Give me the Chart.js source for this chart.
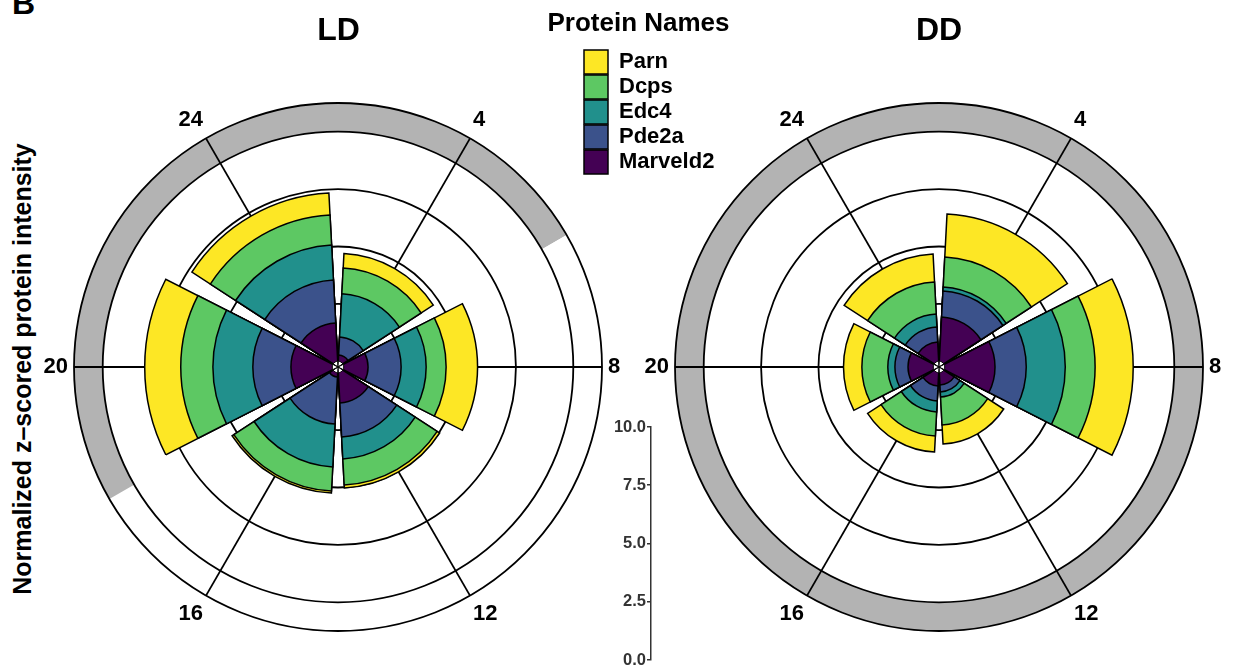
<!DOCTYPE html>
<html>
<head>
<meta charset="utf-8">
<title>Protein rose plots LD / DD</title>
<script src="https://cdn.jsdelivr.net/npm/chart.js@4.4.1/dist/chart.umd.min.js"></script>
<style>
    html, body { margin: 0; padding: 0; background: #fff; overflow: hidden; }
    #figure { position: relative; width: 1235px; height: 668px; overflow: hidden; font-family: 'Liberation Sans', Arial, sans-serif; }
    #figure canvas { position: absolute; }
    .text { position: absolute; font-weight: bold; color: #000; white-space: nowrap; }
    #panelLetter { left: 12px; top: -13px; font-size: 32px; line-height: 32px; }
    #yTitle { left: 22px; top: 369px; font-size: 25px; line-height: 25px; transform: translate(-50%, -50%) rotate(-90deg); }
</style>
</head>
<body>
<div id="figure">
    <div id="panelLetter" class="text">B</div>
    <div id="yTitle" class="text">Normalized z–scored protein intensity</div>
    <canvas id="ldBack" width="677" height="668" style="left:0;top:0"></canvas>
    <canvas id="ldFront" width="677" height="668" style="left:0;top:0"></canvas>
    <canvas id="ddBack" width="592" height="668" style="left:643px;top:0"></canvas>
    <canvas id="ddFront" width="592" height="668" style="left:643px;top:0"></canvas>
    <canvas id="scaleAxis" width="207" height="680" style="left:540px;top:0"></canvas>
    <canvas id="legendCanvas" width="400" height="200" style="left:573px;top:0"></canvas>
</div>
<script>
// time points, in the order the bars go round (clockwise from 24)
const timeLabels = ['24', '4', '8', '12', '16', '20'];

// proteins stacked from the centre outwards
const proteins = ['Marveld2', 'Pde2a', 'Edc4', 'Dcps', 'Parn'];
const proteinColors = ['#440154', '#3B528B', '#21908C', '#5DC863', '#FDE725'];

// LD
const ldMarveld2 = [1.67, 0.27, 1.06, 1.32, 0.19, 1.80];
const ldPde2a    = [1.88, 0.79, 1.44, 1.48, 2.05, 1.66];
const ldEdc4     = [1.52, 1.88, 1.09, 0.96, 1.87, 1.74];
const ldDcps     = [1.31, 1.13, 0.87, 1.14, 1.05, 1.40];
const ldParn     = [0.96, 0.63, 1.37, 0.13, 0.09, 1.57];

// DD
const ddMarveld2 = [0.84, 1.93, 2.19, 0.54, 0.58, 1.10];
const ddPde2a    = [0.66, 1.14, 1.36, 0.30, 0.65, 0.57];
const ddEdc4     = [0.56, 0.17, 1.70, 0.22, 0.48, 0.31];
const ddDcps     = [1.40, 1.31, 1.30, 1.22, 1.05, 1.13];
const ddParn     = [1.22, 1.87, 1.66, 0.83, 0.70, 0.80];

// light/dark ring, hours starting at 24 going clockwise
const ldPhaseHours = [6, 12, 6];
const ldPhaseNames = ['dark', 'light', 'dark'];
const ddPhaseHours = [24];
const ddPhaseNames = ['dark'];

const axisTicks = [0, 2.5, 5, 7.5, 10];

const BLACK = '#000000';
const NONE = 'rgba(0,0,0,0)';
const phaseColors = { dark: '#B3B3B3', light: '#FFFFFF' };

const R_MIN = -0.25;
const R_MAX = 11.25;
const RING_INNER = 10;
const GRID_VALUES = [2.5, 5, 7.5, 10, R_MAX];
const BAR_DEG = 54;
const GAP_DEG = 6;

Chart.defaults.font.family = "'Liberation Sans', Arial, sans-serif";

//===----------------------------------------------------------------------===//
//                       Helper Functions
//===----------------------------------------------------------------------===//

function isBarSlot(ctx) {
    return ctx.dataIndex % 2 === 1;
}

// half gap, bar, gap, bar ... bar, half gap
function slotAngle(ctx) {
    const i = ctx.dataIndex;
    if (i === 0 || i === timeLabels.length * 2) {
        return GAP_DEG / 2;
    }
    return i % 2 === 1 ? BAR_DEG : GAP_DEG;
}

function toSlots(values) {
    const slots = [0];
    values.forEach(v => {
        slots.push(v);
        slots.push(0);
    });
    return slots;
}

function stack(layers) {
    let run = timeLabels.map(() => 0);
    return layers.map(layer => {
        run = run.map((s, i) => s + layer[i]);
        return run;
    });
}

function barDatasets(layers) {
    const list = [{
        label: 'hole',
        data: toSlots(timeLabels.map(() => 0)),
        angle: slotAngle,
        backgroundColor: ctx => isBarSlot(ctx) ? '#FFFFFF' : NONE,
        borderColor: BLACK,
        borderWidth: ctx => isBarSlot(ctx) ? 1 : 0
    }];
    stack(layers).forEach((sums, k) => {
        list.push({
            label: proteins[k],
            data: toSlots(sums),
            angle: slotAngle,
            backgroundColor: ctx => isBarSlot(ctx) ? proteinColors[k] : NONE,
            borderColor: BLACK,
            borderWidth: ctx => isBarSlot(ctx) ? 1.5 : 0,
            borderJoinStyle: 'miter'
        });
    });
    return list;
}

function ringDatasets(hours, names) {
    return [{
        label: 'inner',
        data: [RING_INNER],
        angle: 360,
        backgroundColor: '#FFFFFF',
        borderWidth: 0
    }, {
        label: 'phase',
        data: hours.map(() => R_MAX),
        angle: ctx => hours[ctx.dataIndex] * 15,
        backgroundColor: names.map(n => phaseColors[n]),
        borderWidth: 0
    }];
}

function polarOptions(title, startAngle, front) {
    return {
        responsive: false,
        devicePixelRatio: 1,
        animation: false,
        events: [],
        layout: { padding: { top: 0, bottom: 36.5, left: 0, right: 0 } },
        plugins: {
            legend: { display: false },
            tooltip: { enabled: false },
            title: {
                display: true,
                text: title,
                color: front ? NONE : BLACK,
                font: { size: 32, weight: 'bold' },
                padding: { top: 12, bottom: 53 }
            }
        },
        scales: {
            r: {
                min: R_MIN,
                max: R_MAX,
                startAngle: startAngle,
                ticks: { display: false },
                afterBuildTicks: scale => {
                    scale.ticks = GRID_VALUES.map(v => ({ value: v }));
                },
                grid: { display: !front, circular: true, color: BLACK, lineWidth: 1.8, z: 1 },
                angleLines: { display: !front, color: BLACK, lineWidth: 1.8 },
                pointLabels: {
                    display: true,
                    centerPointLabels: front,
                    color: front ? NONE : BLACK,
                    padding: 6,
                    font: { size: 22, weight: 'bold' }
                }
            }
        }
    };
}

function roseChart(prefix, title, layers, hours, names) {
    // ring, grid and hour labels
    new Chart(document.getElementById(prefix + 'Back'), {
        type: 'polarArea',
        data: { labels: timeLabels, datasets: ringDatasets(hours, names) },
        options: polarOptions(title, 330, false)
    });
    // stacked bars, centred on the hour lines
    new Chart(document.getElementById(prefix + 'Front'), {
        type: 'polarArea',
        data: { labels: timeLabels, datasets: barDatasets(layers) },
        options: polarOptions(title, 300, true)
    });
}

//===----------------------------------------------------------------------===//

roseChart('ld', 'LD', [ldMarveld2, ldPde2a, ldEdc4, ldDcps, ldParn], ldPhaseHours, ldPhaseNames);
roseChart('dd', 'DD', [ddMarveld2, ddPde2a, ddEdc4, ddDcps, ddParn], ddPhaseHours, ddPhaseNames);

// intensity scale, carries the legend heading as its title
new Chart(document.getElementById('scaleAxis'), {
    type: 'bar',
    data: { labels: [], datasets: [] },
    options: {
        responsive: false,
        devicePixelRatio: 1,
        animation: false,
        events: [],
        layout: { padding: { left: 0, top: 0, bottom: 20, right: 10 } },
        plugins: {
            legend: { display: false },
            tooltip: { enabled: false },
            title: {
                display: true,
                text: 'Protein Names',
                color: BLACK,
                font: { size: 26, weight: 'bold' },
                padding: { top: 8.4, bottom: 387.4 }
            }
        },
        scales: {
            x: { display: false },
            y: {
                min: 0,
                max: 10,
                afterBuildTicks: scale => {
                    scale.ticks = axisTicks.map(v => ({ value: v }));
                },
                afterFit: scale => { scale.width = 111; },
                ticks: {
                    color: '#333333',
                    padding: 1,
                    font: { size: 16.5, weight: 'bold' },
                    callback: v => Number(v).toFixed(1)
                },
                grid: { drawOnChartArea: false, drawTicks: true, tickLength: 4, color: '#333333', lineWidth: 1.5 },
                border: { display: true, color: '#333333', width: 1.5 }
            }
        }
    }
});

const legendOrder = proteins.slice().reverse();
new Chart(document.getElementById('legendCanvas'), {
    type: 'bar',
    data: {
        labels: [],
        datasets: legendOrder.map(name => ({
            label: name,
            data: [],
            backgroundColor: proteinColors[proteins.indexOf(name)],
            borderColor: BLACK,
            borderWidth: 1.5
        }))
    },
    options: {
        responsive: false,
        devicePixelRatio: 1,
        animation: false,
        events: [],
        layout: { padding: { left: 10, top: 49 } },
        scales: { x: { display: false }, y: { display: false } },
        plugins: {
            tooltip: { enabled: false },
            legend: {
                position: 'left',
                align: 'start',
                labels: {
                    color: BLACK,
                    font: { size: 22, weight: 'bold' },
                    boxWidth: 24,
                    boxHeight: 24,
                    padding: 1
                }
            }
        }
    }
});
</script>
</body>
</html>
